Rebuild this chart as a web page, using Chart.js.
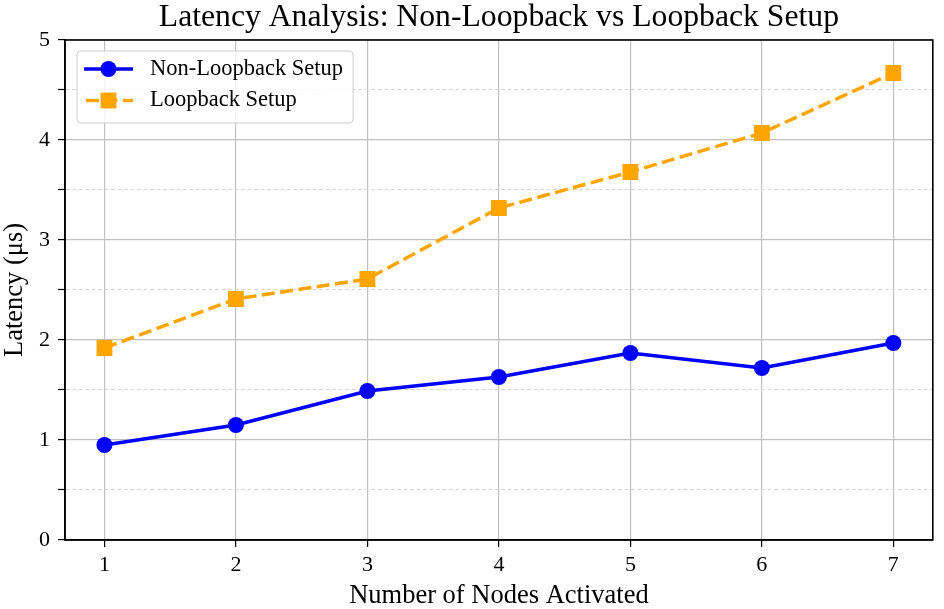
<!DOCTYPE html>
<html>
<head>
<meta charset="utf-8">
<style>
  html, body { margin: 0; padding: 0; background: #fff; }
  canvas { display: block; }
</style>
<script src="https://cdn.jsdelivr.net/npm/chart.js"></script>
</head>
<body>
<canvas id="c" width="944" height="609"></canvas>
<script>
// ---- data ----
const nodes = [1, 2, 3, 4, 5, 6, 7];
const nonLoopback = [0.95, 1.15, 1.49, 1.63, 1.87, 1.72, 1.97];
const loopback = [1.92, 2.41, 2.61, 3.32, 3.68, 4.07, 4.67];
const xTicks = [1, 2, 3, 4, 5, 6, 7];
const yMajorTicks = [0, 1, 2, 3, 4, 5];
const yMinorTicks = [0.5, 1.5, 2.5, 3.5, 4.5];
const seriesLabels = ['Non-Loopback Setup', 'Loopback Setup'];
const titleText = 'Latency Analysis: Non-Loopback vs Loopback Setup';
const xTitle = 'Number of Nodes Activated';
const yTitle = 'Latency (\u03bcs)';

const FONT = "'Liberation Serif', 'Times New Roman', Times, serif";
Chart.defaults.font.family = FONT;
Chart.defaults.color = '#000';

const isMajor = v => yMajorTicks.some(t => Math.abs(t - v) < 1e-9);

const framePlugin = {
  id: 'frame',
  afterDatasetsDraw(chart) {
    const {ctx, chartArea: a} = chart;
    ctx.save();
    ctx.strokeStyle = '#000';
    ctx.lineWidth = 1.6;
    ctx.strokeRect(a.left, a.top, a.right - a.left, a.bottom - a.top);
    ctx.restore();
  }
};

const legendPlugin = {
  id: 'mplLegend',
  afterDraw(chart) {
    const {ctx, chartArea: a} = chart;
    const ds = chart.data.datasets;
    ctx.save();
    ctx.font = '22.5px ' + FONT;
    const textW = Math.max(...ds.map(d => ctx.measureText(d.label).width));
    const bx = a.left + 12, by = a.top + 11;
    const rowH = 31.5;
    const bw = 73 + textW + 10, bh = 72;
    const r = 4;
    ctx.beginPath();
    ctx.moveTo(bx + r, by);
    ctx.arcTo(bx + bw, by, bx + bw, by + bh, r);
    ctx.arcTo(bx + bw, by + bh, bx, by + bh, r);
    ctx.arcTo(bx, by + bh, bx, by, r);
    ctx.arcTo(bx, by, bx + bw, by, r);
    ctx.closePath();
    ctx.fillStyle = 'rgba(255,255,255,0.8)';
    ctx.fill();
    ctx.strokeStyle = '#cccccc';
    ctx.lineWidth = 1;
    ctx.stroke();
    ds.forEach((d, i) => {
      const cy = by + 18 + i * rowH;
      const x0 = bx + 7, x1 = bx + 56, cx = (x0 + x1) / 2;
      ctx.beginPath();
      ctx.setLineDash(d.borderDash || []);
      ctx.lineDashOffset = d.borderDash ? -2 : 0;
      ctx.strokeStyle = d.borderColor;
      ctx.lineWidth = d.borderWidth;
      ctx.moveTo(x0, cy);
      ctx.lineTo(x1, cy);
      ctx.stroke();
      ctx.setLineDash([]);
      ctx.fillStyle = d.backgroundColor;
      ctx.beginPath();
      if (d.pointStyle === 'rect') {
        const s = d.pointRadius * Math.SQRT1_2;
        ctx.rect(cx - s, cy - s, 2 * s, 2 * s);
      } else {
        ctx.arc(cx, cy, d.pointRadius, 0, Math.PI * 2);
      }
      ctx.fill();
      ctx.fillStyle = '#000';
      ctx.textBaseline = 'middle';
      ctx.textAlign = 'left';
      ctx.fillText(d.label, bx + 73, cy);
    });
    ctx.restore();
  }
};

new Chart(document.getElementById('c'), {
  type: 'line',
  data: {
    datasets: [
      {
        label: seriesLabels[0],
        data: nodes.map((x, i) => ({x, y: nonLoopback[i]})),
        borderColor: '#0000ff',
        backgroundColor: '#0000ff',
        borderWidth: 3.5,
        pointStyle: 'circle',
        pointRadius: 8,
        pointBorderWidth: 0,
        pointHoverRadius: 8,
        tension: 0
      },
      {
        label: seriesLabels[1],
        data: nodes.map((x, i) => ({x, y: loopback[i]})),
        borderColor: '#ffa500',
        backgroundColor: '#ffa500',
        borderWidth: 3.5,
        borderDash: [13, 5.5],
        pointStyle: 'rect',
        pointRadius: 11.2,
        pointBorderWidth: 0,
        pointHoverRadius: 11.2,
        tension: 0
      }
    ]
  },
  options: {
    responsive: false,
    animation: false,
    devicePixelRatio: 1,
    layout: { padding: { left: 0, right: 6, top: 0, bottom: 0 } },
    plugins: {
      legend: { display: false },
      tooltip: { enabled: false },
      title: {
        display: true,
        text: titleText,
        fullSize: false,
        color: '#000',
        font: { size: 31.7, weight: 'normal', family: FONT, lineHeight: 1.05 },
        padding: { top: 1, bottom: 5.7 }
      }
    },
    scales: {
      x: {
        type: 'linear',
        min: 0.7,
        max: 7.3,
        afterBuildTicks: s => { s.ticks = xTicks.map(v => ({value: v})); },
        afterFit: s => { s.height = 69; },
        grid: { color: '#c0c0c0', lineWidth: 1.2, tickColor: '#000', tickLength: 7, tickWidth: 1.2 },
        border: { display: true, color: '#000', width: 1.6 },
        ticks: { color: '#000', font: { size: 22 }, padding: 4.8, autoSkip: false, maxRotation: 0, callback: v => String(v) },
        title: { display: true, text: xTitle, color: '#000', font: { size: 26.5, lineHeight: 1.0 }, padding: { top: 0, bottom: 0 } }
      },
      y: {
        type: 'linear',
        min: 0,
        max: 5,
        afterBuildTicks: s => {
          s.ticks = [...yMajorTicks, ...yMinorTicks].sort((p, q) => p - q).map(v => ({value: v}));
        },
        afterFit: s => { s.width = 65; },
        grid: {
          color: c => (c.tick && !isMajor(c.tick.value)) ? '#d6d6d6' : '#c0c0c0',
          lineWidth: c => (c.tick && !isMajor(c.tick.value)) ? 1 : 1.2,
          tickColor: '#000',
          tickLength: 7,
          tickWidth: 1.2
        },
        border: {
          display: true, color: '#000', width: 1.6,
          dash: c => (c.tick && !isMajor(c.tick.value)) ? [4, 2.5] : []
        },
        ticks: {
          color: '#000', font: { size: 22 }, padding: 8, autoSkip: false,
          callback: v => isMajor(v) ? String(v) : ''
        },
        title: { display: true, text: yTitle, color: '#000', font: { size: 26.5, lineHeight: 1.0 }, padding: { top: 2, bottom: 0 } }
      }
    }
  },
  plugins: [framePlugin, legendPlugin]
});
</script>
</body>
</html>
